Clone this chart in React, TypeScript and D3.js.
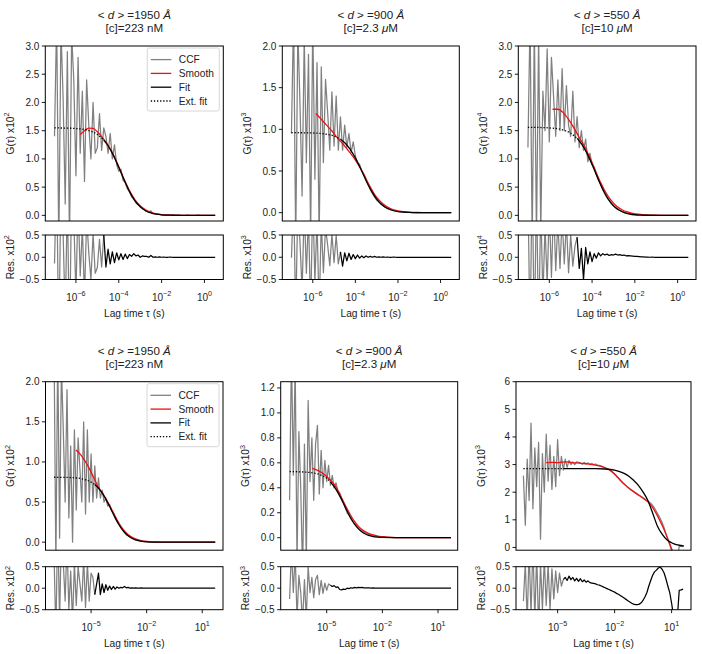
import React from 'react';
import * as d3 from 'd3';

const FONT = '"Liberation Sans", Arial, Helvetica, sans-serif';
const MINUS = '\u2212';

// lag grids, log10(tau / s)
const LAGS_TOP = [
  -7.0, -6.9, -6.8, -6.7, -6.6, -6.5, -6.4, -6.3, -6.2, -6.1,
  -6.0, -5.9, -5.8, -5.7, -5.6, -5.5, -5.4, -5.3, -5.2, -5.1,
  -5.0, -4.9, -4.8, -4.7, -4.6, -4.5, -4.4, -4.3, -4.2, -4.1,
  -4.0, -3.9, -3.8, -3.7, -3.6, -3.5, -3.4, -3.3, -3.2, -3.1,
  -3.0, -2.9, -2.8, -2.7, -2.6, -2.5, -2.4, -2.3, -2.2, -2.1,
  -2.0, -1.9, -1.8, -1.7, -1.6, -1.5, -1.4, -1.3, -1.2, -1.1,
  -1.0, -0.9, -0.8, -0.7, -0.6, -0.5, -0.4, -0.3, -0.2, -0.1,
  0.0, 0.1, 0.2, 0.3, 0.4, 0.5,
];
const LAGS_BOTTOM = [
  -7.0, -6.9, -6.8, -6.7, -6.6, -6.5, -6.4, -6.3, -6.2, -6.1,
  -6.0, -5.9, -5.8, -5.7, -5.6, -5.5, -5.4, -5.3, -5.2, -5.1,
  -5.0, -4.9, -4.8, -4.7, -4.6, -4.5, -4.4, -4.3, -4.2, -4.1,
  -4.0, -3.9, -3.8, -3.7, -3.6, -3.5, -3.4, -3.3, -3.2, -3.1,
  -3.0, -2.9, -2.8, -2.7, -2.6, -2.5, -2.4, -2.3, -2.2, -2.1,
  -2.0, -1.9, -1.8, -1.7, -1.6, -1.5, -1.4, -1.3, -1.2, -1.1,
  -1.0, -0.9, -0.8, -0.7, -0.6, -0.5, -0.4, -0.3, -0.2, -0.1,
  0.0, 0.1, 0.2, 0.3, 0.4, 0.5, 0.6, 0.7, 0.8, 0.9,
  1.0, 1.1, 1.2, 1.3, 1.4, 1.5, 1.6, 1.7,
];
const LAGS_550_LOW = [
  -6.8, -6.7, -6.6, -6.5, -6.4, -6.3, -6.2, -6.1, -6.0, -5.9,
  -5.8, -5.7, -5.6, -5.5, -5.4, -5.3, -5.2, -5.1, -5.0, -4.9,
  -4.8, -4.7, -4.6, -4.5, -4.4, -4.3, -4.2, -4.1, -4.0, -3.9,
  -3.8, -3.7, -3.6, -3.5, -3.4, -3.3, -3.2, -3.1, -3.0, -2.9,
  -2.8, -2.7, -2.6, -2.5, -2.4, -2.3, -2.2, -2.1, -2.0, -1.9,
  -1.8, -1.7, -1.6, -1.5, -1.4, -1.3, -1.2, -1.1, -1.0, -0.9,
  -0.8, -0.7, -0.6, -0.5, -0.4, -0.3, -0.2, -0.1, 0.0, 0.1,
  0.2, 0.3, 0.4, 0.5, 0.6, 0.7, 0.8, 0.9, 1.0, 1.1,
  1.2, 1.3, 1.4, 1.5, 1.6,
];

// model grids
const MODEL_LAGS_TOP = [-7.0, -6.5, -6.0, -5.5, -5.0, -4.7, -4.5, -4.25, -4.0, -3.75, -3.5, -3.25, -3.0, -2.75, -2.5, -2.25, -2.0, -1.75, -1.5, -1.0, -0.5, 0.0, 0.5];
const MODEL_LAGS_BOTTOM = [-7.0, -6.5, -6.0, -5.5, -5.0, -4.8, -4.5, -4.25, -4.0, -3.75, -3.5, -3.25, -3.0, -2.75, -2.5, -2.25, -2.0, -1.5, -1.0, -0.5, 0.0, 1.0, 1.7];
const MODEL_LAGS_550_LOW = [-6.8, -5.5, -4.7, -4.0, -3.0, -2.5, -2.0, -1.5, -1.25, -1.0, -0.75, -0.5, -0.25, 0.0, 0.25, 0.5, 0.75, 1.0, 1.25, 1.5, 1.65];

// ---- <d>=1950 A, 223 nM (top) ----
const CCF_1950_TOP = [
  1.40, 3.50, -0.60, 3.30, 2.10, 0.20, 2.90, -0.50, 3.20, 2.40,
  0.70, 2.80, 1.10, 2.20, 0.60, 2.40, 1.60, 1.00, 2.00, 1.10,
  1.20, 1.80, 1.15, 1.55, 1.40, 1.10, 1.45, 1.00, 1.25, 0.90,
  0.78, 0.82, 0.62, 0.58, 0.47, 0.42, 0.33, 0.29, 0.22, 0.19,
  0.16, 0.12, 0.10, 0.07, 0.06, 0.08, 0.03, 0.03, 0.02, 0.02,
  0.01, 0.01, 0.00, 0.01, 0.00, 0.01, 0.00, 0.00, 0.01, 0.00,
  0.00, 0.00, 0.01, 0.00, 0.00, 0.00, 0.00, 0.01, 0.00, 0.00,
  0.00, 0.00, 0.00, 0.00, 0.00, 0.00,
];
const RES_1950_TOP = [
  -0.14, 1.96, -2.14, 1.76, 0.56, -1.34, 1.36, -2.04, 1.66, 0.86,
  -0.84, 1.27, -0.42, 0.68, -0.92, 0.89, 0.10, -0.50, 0.52, -0.36,
  -0.23, 0.40, -0.22, 0.50, -0.22, 0.18, -0.15, 0.12, -0.12, 0.10,
  -0.06, 0.08, -0.05, 0.07, -0.03, 0.06, 0.02, 0.08, 0.03, 0.05,
  0.00, 0.03, 0.02, 0.02, 0.00, 0.04, 0.00, 0.01, 0.00, 0.01,
  0.00, 0.005, 0.00, 0.00, 0.005, 0.00, 0.00, 0.00, 0.00, 0.00,
  0.00, 0.00, 0.00, 0.00, 0.00, 0.00, 0.00, 0.00, 0.00, 0.00,
  0.00, 0.00, 0.00, 0.00, 0.00, 0.00,
];
const SMOOTH_LAGS_1950_TOP = [-5.8, -5.6, -5.4, -5.2, -5.0, -4.75, -4.5, -4.25, -4.0, -3.75, -3.5, -3.25, -3.0, -2.75, -2.5, -2.25, -2.0, -1.75, -1.5, -1.0, -0.5, 0.0, 0.5];
const SMOOTH_1950_TOP = [1.43, 1.50, 1.545, 1.54, 1.48, 1.37, 1.24, 1.07, 0.86, 0.64, 0.44, 0.28, 0.17, 0.10, 0.055, 0.028, 0.013, 0.006, 0.003, 0.001, 0, 0, 0];
const MODEL_1950_TOP = [1.549, 1.546, 1.538, 1.512, 1.434, 1.334, 1.233, 1.062, 0.851, 0.625, 0.421, 0.261, 0.151, 0.082, 0.042, 0.020, 0.009, 0.004, 0.002, 0.0004, 0, 0, 0];

// ---- <d>=900 A, 2.3 uM (top) ----
const CCF_900_TOP = [
  0.95, 2.40, -0.40, 2.20, 1.30, 0.20, 2.10, 0.60, 1.90, -0.30,
  2.30, 0.40, 1.80, -0.30, 1.75, 0.60, 1.60, 1.20, 0.75, 1.45,
  0.80, 1.40, 0.75, 1.15, 0.75, 1.05, 0.78, 0.95, 0.72, 0.85,
  0.68, 0.60, 0.58, 0.50, 0.46, 0.39, 0.34, 0.28, 0.23, 0.19,
  0.15, 0.13, 0.10, 0.085, 0.065, 0.055, 0.040, 0.035, 0.025, 0.020,
  0.015, 0.012, 0.008, 0.007, 0.004, 0.004, 0.002, 0.002, 0.001, 0.001,
  0.000, 0.001, 0.000, 0.000, 0.000, 0.001, 0.000, 0.000, 0.000, 0.000,
  0.00, 0.00, 0.00, 0.00, 0.00, 0.00,
];
const RES_900_TOP = [
  -0.01, 1.44, -1.36, 1.24, 0.34, -0.76, 1.14, -0.36, 0.94, -1.26,
  1.35, -0.55, 0.85, -1.25, 0.80, -0.35, 0.66, 0.27, -0.19, 0.52,
  -0.12, 0.49, -0.15, 0.12, -0.20, 0.10, -0.08, 0.09, -0.05, 0.06,
  -0.03, 0.05, -0.02, 0.03, -0.01, 0.03, 0.00, 0.02, 0.00, 0.02,
  0.00, 0.01, 0.00, 0.01, 0.00, 0.005, 0.00, 0.00, 0.005, 0.00,
  0.00, 0.00, 0.00, 0.00, 0.00, 0.00, 0.00, 0.00, 0.00, 0.00,
  0.00, 0.00, 0.00, 0.00, 0.00, 0.00, 0.00, 0.00, 0.00, 0.00,
  0.00, 0.00, 0.00, 0.00, 0.00, 0.00,
];
const SMOOTH_LAGS_900_TOP = [-5.85, -5.6, -5.35, -5.1, -4.85, -4.6, -4.35, -4.1, -3.85, -3.6, -3.35, -3.1, -2.85, -2.6, -2.35, -2.1, -1.85, -1.6, -1.35, -1.1, -0.6, 0.0, 0.5];
const SMOOTH_900_TOP = [1.19, 1.12, 1.05, 0.98, 0.90, 0.83, 0.75, 0.67, 0.57, 0.46, 0.33, 0.22, 0.14, 0.085, 0.05, 0.028, 0.015, 0.008, 0.004, 0.002, 0, 0, 0];
const MODEL_900_TOP = [0.960, 0.959, 0.956, 0.947, 0.919, 0.880, 0.839, 0.763, 0.657, 0.527, 0.387, 0.261, 0.162, 0.094, 0.051, 0.026, 0.013, 0.006, 0.003, 0.0005, 0, 0, 0];

// ---- <d>=550 A, 10 uM (top) ----
const CCF_550_TOP = [
  1.20, 3.50, -0.50, 3.40, -0.40, 3.20, -0.30, 2.20, 1.50, 2.95,
  1.30, 2.80, 2.10, 1.40, 2.40, 1.50, 2.60, 1.50, 2.30, 1.60,
  1.40, 2.20, 1.30, 1.75, 1.20, 1.50, 1.15, 1.35, 0.95, 1.10,
  0.90, 0.85, 0.72, 0.62, 0.55, 0.45, 0.38, 0.31, 0.26, 0.21,
  0.17, 0.14, 0.11, 0.09, 0.075, 0.06, 0.05, 0.04, 0.03, 0.025,
  0.02, 0.015, 0.012, 0.01, 0.008, 0.006, 0.005, 0.004, 0.003, 0.002,
  0.002, 0.001, 0.001, 0.0, 0.001, 0.0, 0.0, 0.0, 0.0, 0.0,
  0.00, 0.00, 0.00, 0.00, 0.00, 0.00,
];
const RES_550_TOP = [
  1.50, -1.80, 1.90, -1.90, 1.60, -1.80, 1.20, -0.90, 0.70, -0.60,
  1.10, -0.45, 1.20, -0.30, 0.80, -0.25, 0.90, -0.15, 0.80, -0.35,
  0.50, -0.20, 0.25, 0.45, -0.25, 0.20, -0.50, 0.22, -0.15, 0.12,
  -0.10, 0.08, -0.02, 0.10, 0.03, 0.08, 0.05, 0.07, 0.04, 0.06,
  0.05, 0.07, 0.05, 0.06, 0.04, 0.05, 0.03, 0.035, 0.03, 0.025,
  0.02, 0.02, 0.015, 0.01, 0.01, 0.005, 0.005, 0.0, 0.005, 0.0,
  0.00, 0.00, 0.00, 0.00, 0.00, 0.00, 0.00, 0.00, 0.00, 0.00,
  0.00, 0.00, 0.00, 0.00, 0.00, 0.00,
];
const SMOOTH_LAGS_550_TOP = [-5.85, -5.6, -5.35, -5.1, -4.85, -4.6, -4.35, -4.1, -3.85, -3.6, -3.35, -3.1, -2.85, -2.6, -2.35, -2.1, -1.85, -1.6, -1.35, -1.1, -0.6, 0.0, 0.5];
const SMOOTH_550_TOP = [1.88, 1.88, 1.82, 1.70, 1.55, 1.38, 1.22, 1.02, 0.80, 0.58, 0.40, 0.26, 0.16, 0.10, 0.06, 0.035, 0.02, 0.01, 0.005, 0.002, 0, 0, 0];
const MODEL_550_TOP = [1.559, 1.557, 1.549, 1.526, 1.455, 1.363, 1.269, 1.107, 0.901, 0.674, 0.461, 0.291, 0.170, 0.094, 0.049, 0.024, 0.011, 0.005, 0.002, 0.0004, 0, 0, 0];

// ---- <d>=1950 A, 223 nM (bottom) ----
const CCF_1950_LOW = [
  2.50, -0.30, 2.40, 0.05, 2.20, 1.40, 0.50, 1.90, 0.30, 1.20,
  0.00, 1.40, 0.40, 1.30, 0.90, 0.50, 1.50, 0.35, 1.40, 0.50,
  1.10, 0.50, 0.95, 0.55, 0.80, 0.55, 0.65, 0.50, 0.55, 0.45,
  0.47, 0.40, 0.37, 0.30, 0.26, 0.22, 0.18, 0.15, 0.12, 0.09,
  0.08, 0.065, 0.05, 0.04, 0.03, 0.025, 0.02, 0.015, 0.01, 0.008,
  0.006, 0.005, 0.004, 0.003, 0.002, 0.002, 0.001, 0.001, 0.0, 0.001,
  0, 0, 0, 0, 0, 0, 0, 0, 0, 0,
  0, 0, 0, 0, 0, 0, 0, 0, 0, 0,
  0, 0, 0, 0, 0, 0, 0, 0,
];
const RES_1950_LOW = [
  0.80, -1.10, 1.60, -0.80, 1.40, 0.60, -0.30, 1.10, -0.50, 0.40,
  -0.80, 0.60, -0.40, 0.50, 0.10, -0.30, 0.70, -0.45, 0.60, -0.30,
  0.35, 0.25, -0.15, 0.10, 0.35, -0.15, 0.10, -0.10, 0.08, -0.05,
  0.05, -0.03, 0.04, -0.02, 0.03, 0.00, 0.02, 0.01, 0.04, 0.01,
  0.02, 0.00, 0.01, 0.00, 0.005, 0.00, 0.00, 0.005, 0.00, 0.00,
  0, 0, 0, 0, 0, 0, 0, 0, 0, 0,
  0, 0, 0, 0, 0, 0, 0, 0, 0, 0,
  0, 0, 0, 0, 0, 0, 0, 0, 0, 0,
  0, 0, 0, 0, 0, 0, 0, 0,
];
const SMOOTH_LAGS_1950_LOW = [-5.82, -5.6, -5.35, -5.1, -4.85, -4.6, -4.35, -4.1, -3.85, -3.6, -3.35, -3.1, -2.85, -2.6, -2.35, -2.1, -1.85, -1.6, -1.35, -1.1, -0.5, 0.5, 1.7];
const SMOOTH_1950_LOW = [1.15, 1.10, 1.02, 0.92, 0.80, 0.68, 0.60, 0.50, 0.39, 0.28, 0.185, 0.115, 0.07, 0.04, 0.022, 0.012, 0.006, 0.003, 0.0015, 0, 0, 0, 0];
const MODEL_1950_LOW = [0.809, 0.808, 0.804, 0.790, 0.749, 0.718, 0.645, 0.555, 0.445, 0.327, 0.220, 0.137, 0.079, 0.043, 0.022, 0.011, 0.005, 0.001, 0.0002, 0, 0, 0, 0];

// ---- <d>=900 A, 2.3 uM (bottom) ----
const CCF_900_LOW = [
  0.30, 1.50, 0.50, 1.40, -0.20, 0.85, 0.40, -0.30, 0.75, -0.20,
  1.10, 0.45, 0.80, 0.30, 0.75, 0.90, 0.35, 0.70, 0.40, 0.62,
  0.45, 0.58, 0.42, 0.50, 0.40, 0.44, 0.38, 0.36, 0.31, 0.28,
  0.24, 0.20, 0.18, 0.15, 0.13, 0.11, 0.095, 0.08, 0.065, 0.055,
  0.045, 0.038, 0.03, 0.025, 0.02, 0.017, 0.013, 0.01, 0.008, 0.006,
  0.005, 0.004, 0.003, 0.003, 0.002, 0.002, 0.001, 0.001, 0.001, 0.0,
  0, 0, 0, 0, 0, 0, 0, 0, 0, 0,
  0, 0, 0, 0, 0, 0, 0, 0, 0, 0,
  0, 0, 0, 0, 0, 0, 0, 0,
];
const RES_900_LOW = [
  -0.25, 0.90, -0.10, 0.80, -0.70, 0.30, -0.10, -0.80, 0.20, -0.70,
  0.50, -0.10, 0.25, -0.22, 0.20, 0.30, -0.15, 0.18, -0.12, 0.12,
  -0.05, 0.10, 0.07, 0.04, 0.06, 0.02, 0.03, -0.03, -0.04, -0.02,
  -0.03, 0.00, -0.01, 0.01, 0.00, 0.02, 0.01, 0.02, 0.015, 0.02,
  0.01, 0.01, 0.005, 0.005, 0.0, 0.005, 0.0, 0.0, 0.0, 0.0,
  0, 0, 0, 0, 0, 0, 0, 0, 0, 0,
  0, 0, 0, 0, 0, 0, 0, 0, 0, 0,
  0, 0, 0, 0, 0, 0, 0, 0, 0, 0,
  0, 0, 0, 0, 0, 0, 0, 0,
];
const SMOOTH_LAGS_900_LOW = [-5.78, -5.5, -5.25, -5.0, -4.75, -4.5, -4.25, -4.0, -3.75, -3.5, -3.25, -3.0, -2.75, -2.5, -2.25, -2.0, -1.75, -1.5, -1.0, -0.5, 0.0, 1.0, 1.7];
const SMOOTH_900_LOW = [0.555, 0.54, 0.52, 0.49, 0.455, 0.405, 0.335, 0.26, 0.19, 0.13, 0.085, 0.055, 0.035, 0.022, 0.013, 0.008, 0.004, 0.002, 0, 0, 0, 0, 0];
const MODEL_900_LOW = [0.530, 0.528, 0.524, 0.512, 0.476, 0.448, 0.388, 0.321, 0.244, 0.170, 0.109, 0.065, 0.036, 0.019, 0.0095, 0.0045, 0.002, 0.0004, 0, 0, 0, 0, 0];

// ---- <d>=550 A, 10 uM (bottom) ----
const CCF_550_LOW = [
  2.60, 0.80, 3.20, 1.70, 4.50, 1.40, 3.60, 2.20, 3.80, 0.30,
  3.40, 2.00, 4.10, 2.40, 3.70, 2.10, 3.30, 2.20, 3.90, 2.60,
  3.30, 2.80, 3.20, 2.90, 3.15, 3.00, 3.10, 3.00, 3.10, 3.08,
  3.06, 3.01, 3.08, 3.02, 3.06, 3.01, 3.04, 3.00, 3.02, 2.98,
  2.97, 2.95, 2.92, 2.88, 2.85, 2.82, 2.77, 2.71, 2.65, 2.57,
  2.50, 2.42, 2.35, 2.29, 2.23, 2.17, 2.11, 2.06, 2.02, 1.98,
  1.93, 1.89, 1.84, 1.80, 1.75, 1.70, 1.65, 1.60, 1.52, 1.42,
  1.30, 1.18, 1.05, 0.90, 0.72, 0.50, 0.30, 0.10, -0.15, -0.45,
  -0.60, -0.50, 0.05, 0.04, 0.03,
];
const RES_550_LOW = [
  -0.30, 0.60, -0.80, 0.90, -0.60, 1.00, -0.70, 0.80, -1.00, 0.60,
  -0.50, 0.70, -0.40, 0.55, -0.50, 0.45, -0.25, 0.40, -0.10, 0.35,
  0.05, 0.20, 0.25, 0.18, 0.28, 0.20, 0.25, 0.17, 0.23, 0.16,
  0.22, 0.15, 0.19, 0.14, 0.17, 0.13, 0.12, 0.11, 0.10, 0.08,
  0.07, 0.05, 0.03, 0.01, -0.01, -0.03, -0.05, -0.07, -0.09, -0.12,
  -0.14, -0.17, -0.20, -0.23, -0.26, -0.29, -0.32, -0.35, -0.37, -0.38,
  -0.38, -0.37, -0.34, -0.28, -0.20, -0.10, 0.05, 0.18, 0.30, 0.38,
  0.42, 0.47, 0.49, 0.44, 0.36, 0.22, 0.05, -0.10, -0.35, -0.65,
  -0.75, -0.70, -0.05, -0.04, -0.02,
];
const SMOOTH_LAGS_550_LOW = [-5.6, -5.25, -5.0, -4.75, -4.5, -4.25, -4.0, -3.5, -3.0, -2.5, -2.25, -2.0, -1.75, -1.5, -1.25, -1.0, -0.75, -0.5, -0.25, 0.0, 0.25, 0.5, 0.75, 1.0, 1.1];
const SMOOTH_550_LOW = [3.07, 3.08, 3.07, 3.09, 3.10, 3.07, 3.06, 3.03, 2.98, 2.88, 2.80, 2.66, 2.48, 2.30, 2.15, 2.02, 1.90, 1.78, 1.65, 1.45, 1.15, 0.80, 0.40, -0.05, -0.25];
const MODEL_550_LOW = [2.85, 2.85, 2.85, 2.85, 2.85, 2.84, 2.80, 2.68, 2.58, 2.43, 2.25, 2.00, 1.70, 1.25, 0.78, 0.48, 0.28, 0.17, 0.10, 0.07, 0.05];

// titles and axis scaling
const SIZES = ['1950', '900', '550'];
const CONC_VALUES = ['223', '2.3', '10'];
const CONC_UNITS = ['nM', '\u03bcM', '\u03bcM'];
const EXP_TOP = [2, 3, 4];
const EXP_BOTTOM = [2, 3, 3];
const XTICKS_TOP = [-6, -4, -2, 0];
const XTICKS_BOTTOM = [-5, -2, 1];
const YTICKS = [
  [0, 0.5, 1.0, 1.5, 2.0, 2.5, 3.0],
  [0, 0.5, 1.0, 1.5, 2.0],
  [0, 0.5, 1.0, 1.5, 2.0, 2.5, 3.0],
  [0, 0.5, 1.0, 1.5, 2.0],
  [0, 0.2, 0.4, 0.6, 0.8, 1.0, 1.2],
  [0, 1, 2, 3, 4, 5, 6],
];
const RES_TICKS = [-0.5, 0, 0.5];
const LEGEND_ITEMS = ['CCF', 'Smooth', 'Fit', 'Ext. fit'];

const GRAY = '#808080';
const RED = '#ee1111';
const TEXT = '#222';
const TICK_SIZE = 10;
const LABEL_SIZE = 10.2;
const TITLE_SIZE = 11.6;

type Spec = {
  id: string;
  col: number;
  left: number; right: number; top: number; bottom: number;
  resTop: number; resBottom: number;
  xDomain: [number, number];
  xTicks: number[];
  yDomain: [number, number];
  yTicks: number[];
  yFmt: (v: number) => string;
  exp: number;
  lags: number[]; ccf: number[]; res: number[];
  smoothLags: number[]; smooth: number[];
  modelLags: number[]; model: number[];
  fitStart: number;
  legend: boolean;
};

const f1 = (v: number) => d3.format('.1f')(v).replace('-', MINUS);
const f0 = (v: number) => d3.format('d')(v);

const TOP = { top: 46, bottom: 221, resTop: 235, resBottom: 279.5 };
const LOW = { top: 381.7, bottom: 550.2, resTop: 566.7, resBottom: 609.7 };

const specs: Spec[] = [
  { id: 'a', col: 0, ...TOP, left: 45.3, right: 223.3, xDomain: [-7.43, 0.88], xTicks: XTICKS_TOP, yDomain: [-0.1, 3.0], yTicks: YTICKS[0], yFmt: f1, exp: EXP_TOP[0],
    lags: LAGS_TOP, ccf: CCF_1950_TOP, res: RES_1950_TOP, smoothLags: SMOOTH_LAGS_1950_TOP, smooth: SMOOTH_1950_TOP, modelLags: MODEL_LAGS_TOP, model: MODEL_1950_TOP, fitStart: -4.7, legend: true },
  { id: 'b', col: 1, ...TOP, left: 282.3, right: 459.3, xDomain: [-7.43, 0.88], xTicks: XTICKS_TOP, yDomain: [-0.1, 2.0], yTicks: YTICKS[1], yFmt: f1, exp: EXP_TOP[1],
    lags: LAGS_TOP, ccf: CCF_900_TOP, res: RES_900_TOP, smoothLags: SMOOTH_LAGS_900_TOP, smooth: SMOOTH_900_TOP, modelLags: MODEL_LAGS_TOP, model: MODEL_900_TOP, fitStart: -4.7, legend: false },
  { id: 'c', col: 2, ...TOP, left: 518.3, right: 696, xDomain: [-7.45, 0.86], xTicks: XTICKS_TOP, yDomain: [-0.1, 3.0], yTicks: YTICKS[2], yFmt: f1, exp: EXP_TOP[2],
    lags: LAGS_TOP, ccf: CCF_550_TOP, res: RES_550_TOP, smoothLags: SMOOTH_LAGS_550_TOP, smooth: SMOOTH_550_TOP, modelLags: MODEL_LAGS_TOP, model: MODEL_550_TOP, fitStart: -4.7, legend: false },
  { id: 'd', col: 0, ...LOW, left: 45.5, right: 223, xDomain: [-7.46, 2.12], xTicks: XTICKS_BOTTOM, yDomain: [-0.1, 2.0], yTicks: YTICKS[3], yFmt: f1, exp: EXP_BOTTOM[0],
    lags: LAGS_BOTTOM, ccf: CCF_1950_LOW, res: RES_1950_LOW, smoothLags: SMOOTH_LAGS_1950_LOW, smooth: SMOOTH_1950_LOW, modelLags: MODEL_LAGS_BOTTOM, model: MODEL_1950_LOW, fitStart: -4.8, legend: true },
  { id: 'e', col: 1, ...LOW, left: 280.7, right: 457.7, xDomain: [-7.48, 2.06], xTicks: XTICKS_BOTTOM, yDomain: [-0.1, 1.25], yTicks: YTICKS[4], yFmt: f1, exp: EXP_BOTTOM[1],
    lags: LAGS_BOTTOM, ccf: CCF_900_LOW, res: RES_900_LOW, smoothLags: SMOOTH_LAGS_900_LOW, smooth: SMOOTH_900_LOW, modelLags: MODEL_LAGS_BOTTOM, model: MODEL_900_LOW, fitStart: -4.8, legend: false },
  { id: 'f', col: 2, ...LOW, left: 516, right: 691, xDomain: [-7.19, 2.02], xTicks: XTICKS_BOTTOM, yDomain: [-0.1, 6.0], yTicks: YTICKS[5], yFmt: f0, exp: EXP_BOTTOM[2],
    lags: LAGS_550_LOW, ccf: CCF_550_LOW, res: RES_550_LOW, smoothLags: SMOOTH_LAGS_550_LOW, smooth: SMOOTH_550_LOW, modelLags: MODEL_LAGS_550_LOW, model: MODEL_550_LOW, fitStart: -4.7, legend: false },
];

type Pt = [number, number];
const pairs = (lags: number[], vals: number[]): Pt[] => lags.map((l, i) => [Math.pow(10, l), vals[i]] as Pt);

function Panel({ p }: { p: Spec }) {
  const x = d3.scaleLog().domain([Math.pow(10, p.xDomain[0]), Math.pow(10, p.xDomain[1])]).range([p.left, p.right]);
  const y = d3.scaleLinear().domain(p.yDomain).range([p.bottom, p.top]);
  const yr = d3.scaleLinear().domain([-0.5, 0.5]).range([p.resBottom, p.resTop]);

  const mainLine = d3.line<Pt>().x(d => x(d[0])).y(d => y(d[1]));
  const smoothLine = d3.line<Pt>().x(d => x(d[0])).y(d => y(d[1])).curve(d3.curveMonotoneX);
  const resLine = d3.line<Pt>().x(d => x(d[0])).y(d => yr(d[1]));

  const t0 = Math.pow(10, p.fitStart);
  const model = pairs(p.modelLags, p.model);
  const ext = model.filter(d => d[0] <= t0 * 1.0001);
  const fit = model.filter(d => d[0] >= t0 * 0.9999);
  const res = pairs(p.lags, p.res);
  const resEarly = res.filter(d => d[0] <= t0 * 1.0001);
  const resFit = res.filter(d => d[0] >= t0 * 0.9999);

  const cx = (p.left + p.right) / 2;
  const mainMid = (p.top + p.bottom) / 2;
  const resMid = (p.resTop + p.resBottom) / 2;
  const w = p.right - p.left;

  // legend box anchored at the upper right of the main axes
  const lgW = 72, lgH = 63;
  const lgX = p.right - 4 - lgW, lgY = p.top + 2;

  return (
    <g>
      <defs>
        <clipPath id={`main-${p.id}`}><rect x={p.left} y={p.top} width={w} height={p.bottom - p.top} /></clipPath>
        <clipPath id={`res-${p.id}`}><rect x={p.left} y={p.resTop} width={w} height={p.resBottom - p.resTop} /></clipPath>
      </defs>

      {/* title */}
      <text x={cx} y={p.top - 27} textAnchor="middle" fontSize={TITLE_SIZE} fill={TEXT}>
        {'< '}<tspan fontStyle="italic">d</tspan>{' > =' + SIZES[p.col] + ' '}<tspan fontStyle="italic">Å</tspan>
      </text>
      <text x={cx} y={p.top - 14} textAnchor="middle" fontSize={TITLE_SIZE} fill={TEXT}>
        {'[c]=' + CONC_VALUES[p.col] + ' '}
        {CONC_UNITS[p.col] === 'nM' ? 'nM' : (<><tspan fontStyle="italic">μ</tspan>M</>)}
      </text>

      {/* main curves */}
      <g clipPath={`url(#main-${p.id})`} fill="none">
        <path d={mainLine(pairs(p.lags, p.ccf)) || ''} stroke={GRAY} strokeWidth={1.25} strokeLinejoin="round" />
        <path d={smoothLine(pairs(p.smoothLags, p.smooth)) || ''} stroke={RED} strokeWidth={1.3} />
        <path d={smoothLine(fit) || ''} stroke="#000" strokeWidth={1.3} />
        <path d={smoothLine(ext) || ''} stroke="#000" strokeWidth={1.3} strokeDasharray="1.3,1.8" />
      </g>

      {/* residuals */}
      <g clipPath={`url(#res-${p.id})`} fill="none">
        <path d={resLine(resEarly) || ''} stroke={GRAY} strokeWidth={1.25} strokeLinejoin="round" />
        <path d={resLine(resFit) || ''} stroke="#000" strokeWidth={1.25} strokeLinejoin="round" />
      </g>

      {/* frames */}
      <rect x={p.left} y={p.top} width={w} height={p.bottom - p.top} fill="none" stroke="#000" strokeWidth={1} />
      <rect x={p.left} y={p.resTop} width={w} height={p.resBottom - p.resTop} fill="none" stroke="#000" strokeWidth={1} />

      {/* main y axis */}
      {p.yTicks.map(t => (
        <g key={`y${t}`}>
          <line x1={p.left - 3.5} x2={p.left} y1={y(t)} y2={y(t)} stroke="#000" strokeWidth={0.9} />
          <text x={p.left - 6} y={y(t)} dy="0.35em" textAnchor="end" fontSize={TICK_SIZE} fill={TEXT}>{p.yFmt(t)}</text>
        </g>
      ))}
      {/* residual y axis */}
      {RES_TICKS.map(t => (
        <g key={`r${t}`}>
          <line x1={p.left - 3.5} x2={p.left} y1={yr(t)} y2={yr(t)} stroke="#000" strokeWidth={0.9} />
          <text x={p.left - 6} y={yr(t)} dy="0.35em" textAnchor="end" fontSize={TICK_SIZE} fill={TEXT}>{f1(t)}</text>
        </g>
      ))}
      {/* x axis */}
      {p.xTicks.map(e => {
        const tx = x(Math.pow(10, e));
        return (
          <g key={`x${e}`}>
            <line x1={tx} x2={tx} y1={p.resBottom} y2={p.resBottom + 3.5} stroke="#000" strokeWidth={0.9} />
            <text x={tx} y={p.resBottom + 21} textAnchor="middle" fontSize={TICK_SIZE} fill={TEXT}>
              10<tspan dy={-4.8} fontSize={7.2}>{e < 0 ? MINUS + Math.abs(e) : String(e)}</tspan>
            </text>
          </g>
        );
      })}
      <text x={cx} y={p.resBottom + 37.5} textAnchor="middle" fontSize={LABEL_SIZE} fill={TEXT}>Lag time τ (s)</text>

      {/* axis labels */}
      <text transform={`translate(${p.left - 31.5},${mainMid}) rotate(-90)`} textAnchor="middle" fontSize={LABEL_SIZE} fill={TEXT}>
        G(τ) x10<tspan dy={-4.4} fontSize={7.2}>{p.exp}</tspan>
      </text>
      <text transform={`translate(${p.left - 31.5},${resMid}) rotate(-90)`} textAnchor="middle" fontSize={LABEL_SIZE} fill={TEXT}>
        Res. x10<tspan dy={-4.4} fontSize={7.2}>{p.exp}</tspan>
      </text>

      {p.legend && (
        <g>
          <rect x={lgX} y={lgY} width={lgW} height={lgH} rx={2} fill="#fff" fillOpacity={0.8} stroke="#cccccc" strokeWidth={0.8} />
          {LEGEND_ITEMS.map((name, i) => {
            const ly = lgY + 11.6 + i * 13.8;
            const stroke = i === 0 ? GRAY : i === 1 ? RED : '#000';
            return (
              <g key={name}>
                <line x1={lgX + 3.5} x2={lgX + 24} y1={ly} y2={ly} stroke={stroke} strokeWidth={1.3}
                  strokeDasharray={i === 3 ? '1.3,1.8' : undefined} />
                <text x={lgX + 31.5} y={ly} dy="0.35em" fontSize={LABEL_SIZE} fill={TEXT}>{name}</text>
              </g>
            );
          })}
        </g>
      )}
    </g>
  );
}

export default function App() {
  return (
    <svg width={702} height={654} style={{ position: 'absolute', left: 0, top: 0, background: '#fff' }}
      fontFamily={FONT}>
      <rect x={0} y={0} width={702} height={654} fill="#fff" />
      {specs.map(p => <Panel key={p.id} p={p} />)}
    </svg>
  );
}
